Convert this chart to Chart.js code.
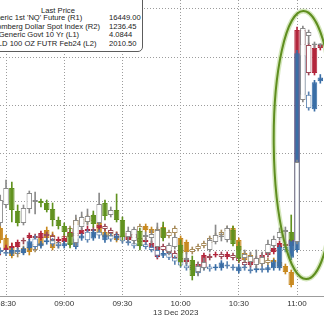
<!DOCTYPE html>
<html>
<head>
<meta charset="utf-8">
<script src="https://cdn.jsdelivr.net/npm/chart.js@4.4.1/dist/chart.umd.min.js"></script>
<style>
  html, body { margin: 0; padding: 0; background: #fff; }
  #wrap { position: relative; width: 324px; height: 317px; overflow: hidden; font-family: "Liberation Sans", Arial, sans-serif; }
  #chart { position: absolute; left: 0; top: 0; }
  .legend { position: absolute; left: -30px; top: -2px; width: 173px; height: 54px; box-sizing: border-box;
            border: 1px solid #5c5c5c; border-radius: 0 0 5px 0; background: #fff; font-size: 7.6px; line-height: 9px; color: #222; }
  .legend span { position: absolute; white-space: nowrap; }
  .legend .head { left: 87px; top: 6.5px; transform: translateX(-50%); }
  .legend .name { left: 15px; }
  .legend .val { left: 138px; }
  .date { position: absolute; left: 153px; top: 307.5px; font-size: 8px; line-height: 9px; color: #333; white-space: nowrap; }
</style>
</head>
<body>
<div id="wrap">
  <canvas id="chart" width="324" height="317"></canvas>
  <div class="legend" id="legend"><span class="head">Last Price</span></div>
  <div class="date" id="dateLabel"></div>
</div>
<script>
// 3-minute bars, 13 Dec 2023
const TIMES = ['08:27','08:30','08:33','08:36','08:39','08:42','08:45','08:48','08:51','08:54',
  '08:57','09:00','09:03','09:06','09:09','09:12','09:15','09:18','09:21','09:24',
  '09:27','09:30','09:33','09:36','09:39','09:42','09:45','09:48','09:51','09:54',
  '09:57','10:00','10:03','10:06','10:09','10:12','10:15','10:18','10:21','10:24',
  '10:27','10:30','10:33','10:36','10:39','10:42','10:45','10:48','10:51','10:54',
  '10:57','11:00','11:03','11:06','11:09','11:12'];
const X_LABELS = ['08:30','09:00','09:30','10:00','10:30','11:00'];
const DATE_TEXT = '13 Dec 2023';
const GOLD_GRID = [1985, 1990, 1995, 2000, 2005, 2010];

// Generic 1st 'NQ' Future (R1)
const NQ_OPEN = [16227,16245,16262,16239,16227,16241,16248,16249,16247,16241,
  16230,16224,16217,16207,16223,16228,16235,16227,16247,16235,
  16240,16230,16213,16209,16219,16213,16212,16203,16222,16198,
  16203,16205,16190,16190,16178,16182,16200,16208,16213,16210,
  16220,16204,16192,16188,16185,16186,16197,16204,16212,16218,
  16218,16208,16350,16414,16405,16405];
const NQ_HIGH = [16255,16270,16268,16245,16245,16259,16258,16251,16250,16247,
  16233,16227,16222,16235,16238,16241,16239,16257,16250,16243,
  16256,16233,16223,16223,16222,16218,16220,16227,16228,16207,
  16215,16210,16198,16194,16188,16192,16212,16225,16217,16224,
  16224,16208,16200,16198,16200,16198,16210,16214,16222,16223,
  16235,16290,16424,16420,16408,16406];
const NQ_LOW = [16224,16242,16228,16224,16225,16237,16236,16243,16238,16224,
  16221,16215,16202,16204,16220,16225,16223,16225,16230,16233,
  16228,16210,16210,16206,16200,16209,16206,16201,16209,16195,
  16201,16184,16186,16170,16174,16180,16198,16206,16209,16208,
  16204,16188,16188,16184,16182,16184,16194,16202,16210,16206,
  16209,16206,16348,16406,16402,16403];
const NQ_CLOSE = [16250,16262,16240,16227,16242,16257,16250,16247,16240,16230,
  16224,16218,16205,16230,16233,16234,16226,16246,16234,16240,
  16230,16213,16219,16221,16204,16215,16216,16220,16212,16205,
  16213,16188,16192,16174,16184,16188,16210,16215,16213,16222,
  16206,16192,16196,16194,16192,16193,16206,16211,16218,16220,
  16210,16288,16422,16418,16405,16405];

// Bloomberg Dollar Spot Index (R2)
const DXY_OPEN = [1250.88,1250.48,1250.16,1249.84,1249.92,1250.12,1250.00,1250.52,1250.80,1250.60,
  1250.16,1250.36,1250.56,1251.20,1251.04,1251.28,1251.16,1251.08,1250.72,1250.56,
  1250.64,1250.40,1250.56,1250.48,1250.72,1250.96,1250.84,1250.72,1250.92,1250.56,
  1250.68,1250.48,1250.32,1249.92,1250.04,1250.16,1250.28,1250.48,1250.60,1250.76,
  1250.88,1250.40,1249.88,1249.80,1249.52,1249.68,1249.48,1249.60,1249.52,1249.36,
  1249.12,null,null,null,null,null];
const DXY_HIGH = [1251.00,1250.60,1250.28,1250.08,1250.16,1250.20,1250.32,1250.64,1250.92,1250.72,
  1250.40,1250.64,1250.96,1251.28,1251.36,1251.40,1251.44,1251.16,1250.84,1250.76,
  1250.72,1250.64,1250.64,1250.72,1251.04,1251.04,1250.92,1250.92,1251.00,1250.80,
  1250.96,1250.56,1250.40,1250.12,1250.24,1250.36,1250.56,1250.68,1250.80,1250.96,
  1250.96,1250.48,1249.96,1249.88,1249.76,1249.76,1249.68,1249.68,1249.60,1249.44,
  1249.20,null,null,null,null,null];
const DXY_LOW = [1250.28,1249.96,1249.68,1249.72,1249.84,1249.80,1249.92,1250.12,1250.40,1250.00,
  1250.08,1250.28,1250.48,1250.88,1250.96,1251.04,1251.08,1250.60,1250.44,1250.48,
  1250.32,1250.32,1250.28,1250.40,1250.64,1250.72,1250.60,1250.64,1250.44,1250.48,
  1250.60,1249.80,1249.84,1249.84,1249.96,1250.08,1250.20,1250.40,1250.52,1250.68,
  1250.32,1249.92,1249.52,1249.40,1249.44,1249.36,1249.40,1249.44,1249.28,1249.04,
  1248.52,null,null,null,null,null];
const DXY_CLOSE = [1250.40,1250.08,1249.76,1250.00,1250.08,1249.92,1250.24,1250.20,1250.48,1250.08,
  1250.32,1250.56,1250.88,1251.00,1251.24,1251.12,1251.36,1250.68,1250.52,1250.68,
  1250.40,1250.56,1250.40,1250.64,1250.96,1250.80,1250.68,1250.84,1250.52,1250.72,
  1250.88,1249.88,1249.92,1250.04,1250.16,1250.28,1250.48,1250.60,1250.72,1250.88,
  1250.40,1250.00,1249.60,1249.48,1249.68,1249.44,1249.60,1249.52,1249.36,1249.12,
  1248.60,null,null,null,null,null];

// US Generic Govt 10 Yr (L1), inverted axis
const Y10_OPEN = [4.2110,4.2100,4.2090,4.2085,4.2050,4.2040,4.2030,4.2040,4.2020,4.2030,
  4.2055,4.2060,4.2035,4.2015,4.2020,4.2005,4.1995,4.1990,4.1980,4.2000,
  4.2020,4.2040,4.2050,4.2020,4.2040,4.2060,4.2090,4.2135,4.2080,4.2100,
  4.2115,4.2140,4.2160,4.2175,4.2185,4.2185,4.2130,4.2125,4.2120,4.2135,
  4.2125,4.2140,4.2160,4.2175,4.2165,4.2140,4.2125,4.2110,4.2085,4.2070,
  4.2080,4.2050,4.1000,4.1075,4.1215,4.1090];
const Y10_HIGH = [4.2125,4.2110,4.2100,4.2095,4.2070,4.2050,4.2055,4.2050,4.2040,4.2060,
  4.2065,4.2070,4.2045,4.2040,4.2030,4.2015,4.2015,4.2000,4.2005,4.2025,
  4.2045,4.2050,4.2060,4.2050,4.2070,4.2075,4.2100,4.2145,4.2110,4.2125,
  4.2150,4.2170,4.2170,4.2200,4.2195,4.2195,4.2150,4.2135,4.2145,4.2145,
  4.2150,4.2165,4.2185,4.2185,4.2175,4.2150,4.2135,4.2120,4.2095,4.2090,
  4.2090,4.2060,4.1090,4.1225,4.1225,4.1100];
const Y10_LOW = [4.2090,4.2075,4.2065,4.2050,4.2040,4.2015,4.2020,4.2005,4.2010,4.2020,
  4.2035,4.2030,4.2000,4.2005,4.1990,4.1980,4.1985,4.1965,4.1970,4.1990,
  4.2010,4.2020,4.2005,4.2010,4.2030,4.2040,4.2055,4.2075,4.2070,4.2090,
  4.2105,4.2130,4.2140,4.2165,4.2160,4.2115,4.2120,4.2110,4.2110,4.2110,
  4.2115,4.2130,4.2150,4.2150,4.2135,4.2115,4.2100,4.2080,4.2055,4.2060,
  4.2040,4.0985,4.0990,4.1065,4.1075,4.1070];
const Y10_CLOSE = [4.2100,4.2090,4.2080,4.2060,4.2055,4.2025,4.2040,4.2015,4.2030,4.2050,
  4.2045,4.2040,4.2010,4.2030,4.2000,4.1995,4.2005,4.1975,4.1995,4.2015,
  4.2035,4.2030,4.2015,4.2040,4.2060,4.2050,4.2065,4.2085,4.2100,4.2115,
  4.2140,4.2160,4.2150,4.2190,4.2170,4.2125,4.2140,4.2120,4.2135,4.2120,
  4.2140,4.2155,4.2175,4.2160,4.2145,4.2125,4.2110,4.2090,4.2065,4.2080,
  4.2050,4.1000,4.1075,4.1215,4.1090,4.1075];

// GOLD 100 OZ FUTR Feb24 (L2)
const GOLD_OPEN = [1985.0,1984.8,1984.6,1985.0,1984.7,1985.2,1986.2,1985.4,1985.8,1986.0,
  1985.6,1985.4,1985.7,1985.3,1986.2,1986.9,1986.2,1986.9,1986.0,1986.5,
  1986.2,1986.5,1985.9,1985.7,1985.4,1985.6,1985.3,1985.0,1984.4,1984.7,
  1984.2,1983.8,1983.4,1983.1,1982.6,1983.1,1983.3,1983.1,1983.1,1983.5,
  1983.3,1982.8,1983.3,1983.0,1982.9,1983.1,1982.9,1983.1,1983.1,1985.3,
  1984.2,1985.0,2005.2,2001.1,1999.6,2002.5];
const GOLD_HIGH = [1985.2,1985.0,1985.2,1985.2,1985.3,1986.1,1986.5,1985.9,1986.2,1986.2,
  1985.8,1985.9,1985.9,1986.5,1986.7,1987.1,1987.1,1987.1,1986.8,1986.7,
  1986.7,1986.7,1986.1,1985.9,1985.8,1985.8,1985.5,1985.2,1984.9,1984.9,
  1984.4,1984.0,1983.7,1983.3,1983.4,1983.5,1983.5,1983.5,1983.9,1983.8,
  1983.5,1983.5,1983.5,1983.2,1983.3,1983.3,1983.4,1984.0,1985.5,1985.5,
  1986.2,2005.7,2005.5,2001.4,2002.6,2003.2];
const GOLD_LOW = [1984.6,1984.4,1984.4,1984.6,1984.5,1985.0,1985.1,1985.2,1985.6,1985.4,
  1985.2,1985.2,1985.4,1985.1,1986.0,1985.8,1986.0,1986.2,1985.8,1985.9,
  1986.0,1985.7,1985.5,1985.2,1985.2,1985.1,1984.8,1984.2,1984.2,1984.0,
  1983.5,1983.2,1982.9,1982.7,1982.4,1982.9,1982.8,1982.9,1982.9,1983.1,
  1982.9,1982.6,1982.9,1982.6,1982.7,1982.7,1982.7,1982.9,1982.9,1984.8,
  1984.0,1984.8,2000.8,1999.5,1999.4,2002.3];
const GOLD_CLOSE = [1984.8,1984.6,1985.0,1984.8,1985.1,1985.9,1985.3,1985.7,1986.0,1985.6,
  1985.4,1985.7,1985.6,1986.2,1986.5,1986.0,1986.9,1986.5,1986.6,1986.1,
  1986.5,1985.9,1985.7,1985.4,1985.6,1985.3,1985.0,1984.4,1984.7,1984.2,
  1983.8,1983.4,1983.1,1982.9,1983.2,1983.3,1983.0,1983.3,1983.7,1983.3,
  1983.1,1983.3,1983.1,1982.8,1983.1,1982.9,1983.2,1983.8,1985.3,1985.0,
  1986.0,2005.4,2001.1,1999.7,2002.4,2002.9];

const LEGEND_NAMES = ["Generic 1st 'NQ' Future  (R1)", 'Bloomberg Dollar Spot Index  (R2)', 'US Generic Govt 10 Yr  (L1)', 'GOLD 100 OZ FUTR Feb24  (L2)'];
const LEGEND_LAST = ['16449.00', '1236.45', '4.0844', '2010.50'];

const toMin = s => { const [h, m] = s.split(':').map(Number); return h * 60 + m; };
const fmt = v => String(Math.floor(v / 60)).padStart(2, '0') + ':' + String(Math.round(v % 60)).padStart(2, '0');

// visible window (minutes after midnight), the picture is cut on both sides
const VIEW_FROM = 506.9, VIEW_TO = 673.9;
// highlight ring round the 11:00 move, in time / NQ terms
const RING = { from: 648, to: 680, low: 16171, high: 16439, tilt: -0.011 };

// drawn top to bottom
const SERIES = [
  { o: NQ_OPEN, h: NQ_HIGH, l: NQ_LOW, c: NQ_CLOSE, axis: 'yR1', solidWhen: (o, c) => c < o, solid: '#61921f', hollow: '#8a8a8a' },
  { o: GOLD_OPEN, h: GOLD_HIGH, l: GOLD_LOW, c: GOLD_CLOSE, axis: 'yL2', solidWhen: (o, c) => c > o, solid: '#3a6ea6', hollow: '#5a82b0' },
  { o: Y10_OPEN, h: Y10_HIGH, l: Y10_LOW, c: Y10_CLOSE, axis: 'yL1', solidWhen: (o, c) => c < o, solid: '#b3263c', hollow: '#9c4a57' },
  { o: DXY_OPEN, h: DXY_HIGH, l: DXY_LOW, c: DXY_CLOSE, axis: 'yR2', solidWhen: (o, c) => c < o, solid: '#c8891f', hollow: '#a88c5c' }
];

const datasets = [];
SERIES.forEach(s => {
  const body = [], wick = [], fill = [], edge = [];
  TIMES.forEach((t, i) => {
    if (s.o[i] == null) return;
    const x = toMin(t);
    body.push({ x, y: [s.o[i], s.c[i]] });
    wick.push({ x, y: [s.l[i], s.h[i]] });
    if (s.o[i] === s.c[i]) { fill.push(s.hollow); edge.push(s.hollow); }
    else if (s.solidWhen(s.o[i], s.c[i])) { fill.push(s.solid); edge.push(s.solid); }
    else { fill.push('#ffffff'); edge.push(s.hollow); }
  });
  datasets.push({ data: body, yAxisID: s.axis, grouped: false, barThickness: 5.5, minBarLength: 1.5,
    borderWidth: 1, borderSkipped: false, inflateAmount: 0, backgroundColor: fill, borderColor: edge });
  datasets.push({ data: wick, yAxisID: s.axis, grouped: false, barThickness: 1,
    borderWidth: 0, backgroundColor: edge });
});

const ringPlugin = {
  id: 'ring',
  afterDatasetsDraw(chart) {
    const { ctx, scales } = chart;
    const x0 = scales.x.getPixelForValue(RING.from), x1 = scales.x.getPixelForValue(RING.to);
    const y0 = scales.yR1.getPixelForValue(RING.high), y1 = scales.yR1.getPixelForValue(RING.low);
    ctx.save();
    ctx.beginPath();
    ctx.ellipse((x0 + x1) / 2, (y0 + y1) / 2, (x1 - x0) / 2, (y1 - y0) / 2, RING.tilt, 0, Math.PI * 2);
    ctx.strokeStyle = 'rgba(150,195,90,0.4)';
    ctx.lineWidth = 5;
    ctx.stroke();
    ctx.strokeStyle = '#5f8e1f';
    ctx.lineWidth = 2;
    ctx.stroke();
    ctx.restore();
  }
};

const hidden = (min, max, extra) => Object.assign({ display: false, min, max }, extra || {});
const tickFont = { family: '"Liberation Sans", Arial, sans-serif', size: 8 };

new Chart(document.getElementById('chart'), {
  type: 'bar',
  data: { datasets },
  plugins: [ringPlugin],
  options: {
    responsive: false,
    animation: false,
    events: [],
    layout: { padding: 0 },
    plugins: { legend: { display: false }, tooltip: { enabled: false } },
    scales: {
      x: {
        type: 'linear', min: VIEW_FROM, max: VIEW_TO, offset: false,
        afterBuildTicks: ax => { ax.ticks = X_LABELS.map(t => ({ value: toMin(t) })); },
        afterFit: ax => { ax.height = 21; ax.paddingLeft = 0; ax.paddingRight = 0; },
        grid: { offset: false, drawTicks: false, color: '#9c9c9c', lineWidth: 1 },
        border: { color: '#9c9c9c', dash: [1, 2] },
        ticks: { padding: 3, autoSkip: false, maxRotation: 0, color: '#333', font: tickFont, callback: v => fmt(v) }
      },
      yL2: {
        position: 'left', min: 1980.23, max: 2010.93,
        afterBuildTicks: ax => { ax.ticks = GOLD_GRID.map(v => ({ value: v })); },
        afterFit: ax => { ax.width = 0; },
        ticks: { display: false },
        border: { display: false, dash: [1, 2] },
        grid: { drawTicks: false, color: '#9c9c9c', lineWidth: 1 }
      },
      yL1: hidden(4.085, 4.233, { position: 'left', reverse: true }),
      yR1: hidden(16154, 16450, { position: 'right' }),
      yR2: hidden(1248.16, 1260, { position: 'right' })
    }
  }
});

const legend = document.getElementById('legend');
LEGEND_NAMES.forEach((n, i) => {
  const top = [14, 22.5, 31, 39.5][i];
  legend.insertAdjacentHTML('beforeend',
    `<span class="name" style="top:${top}px">${n}</span><span class="val" style="top:${top}px">${LEGEND_LAST[i]}</span>`);
});
document.getElementById('dateLabel').textContent = DATE_TEXT;
</script>
</body>
</html>
